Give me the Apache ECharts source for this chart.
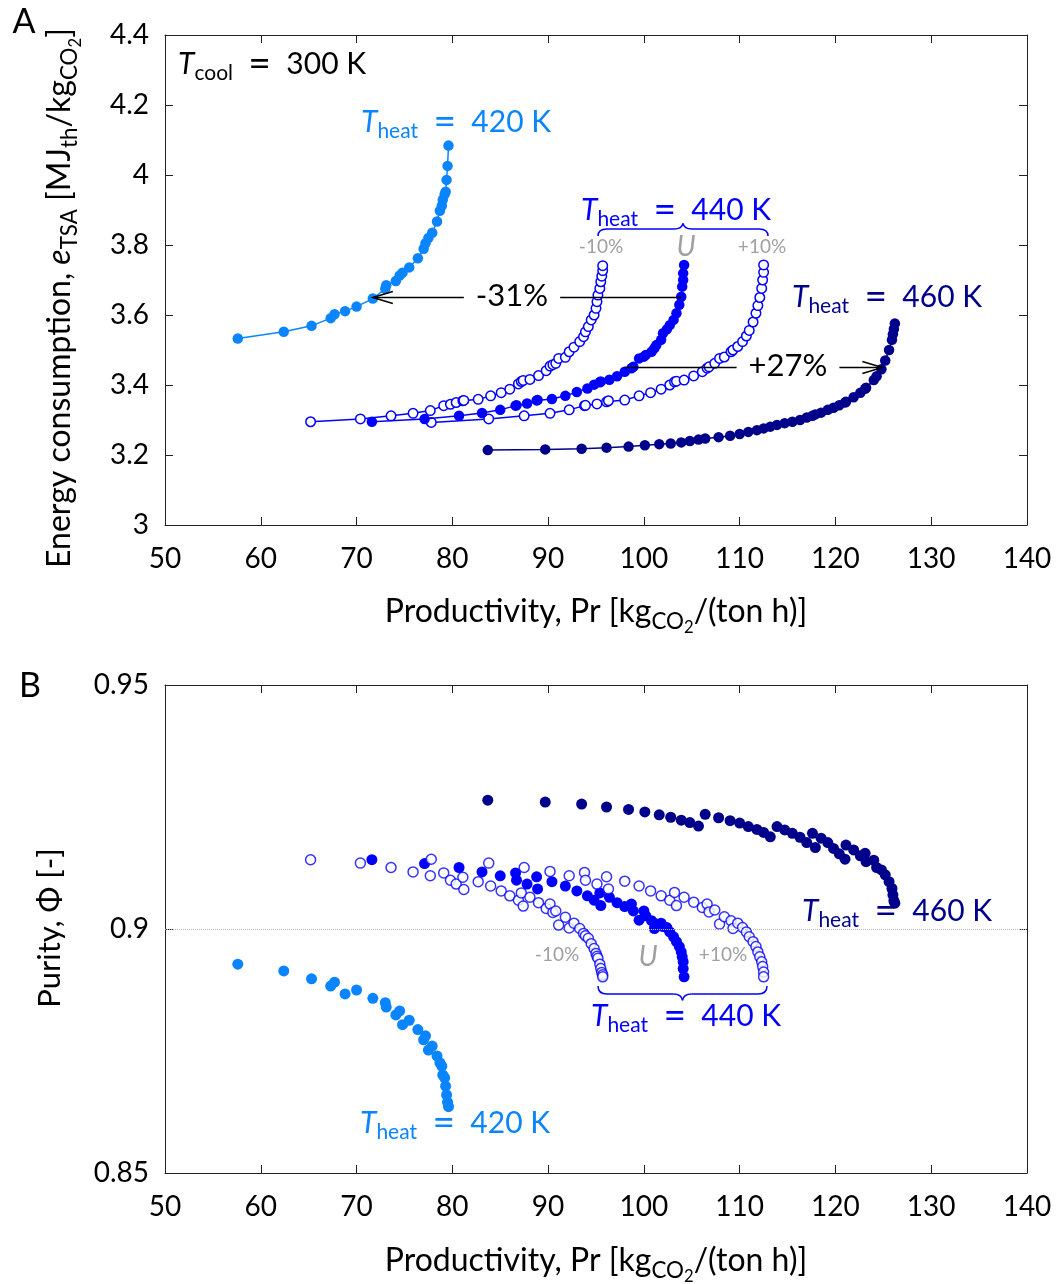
<!DOCTYPE html>
<html><head><meta charset="utf-8">
<script src="https://cdn.jsdelivr.net/npm/echarts@6/dist/echarts.min.js"></script>
<style>html,body{margin:0;padding:0;background:#fff}#c{width:1064px;height:1284px}</style>
</head><body><div id="c"></div>
<script>
// ---------------- data ----------------
const xMin = 50, xMax = 140, xStep = 10;
const yAMin = 3, yAMax = 4.4, yAStep = 0.2;
const yBMin = 0.85, yBMax = 0.95, yBStep = 0.05;

// T_heat = 420 K
const pr420 = [57.6, 62.4, 65.3, 67.3, 67.7, 68.8, 70.0, 71.7, 73.0, 73.1, 74.1, 74.5, 74.8, 75.5, 76.4, 77.0, 77.2, 77.5, 77.9, 78.4, 78.7, 78.9, 79.0, 79.2, 79.3, 79.4, 79.5, 79.6];
const e420 = [3.533, 3.552, 3.569, 3.591, 3.602, 3.611, 3.624, 3.647, 3.675, 3.685, 3.697, 3.713, 3.721, 3.736, 3.762, 3.789, 3.805, 3.82, 3.835, 3.867, 3.898, 3.912, 3.929, 3.945, 3.952, 3.986, 4.026, 4.084];
const phi420 = [0.8928, 0.8914, 0.8898, 0.8883, 0.8891, 0.8867, 0.8875, 0.8858, 0.8849, 0.884, 0.8824, 0.8832, 0.8804, 0.8813, 0.8794, 0.8773, 0.8781, 0.8752, 0.876, 0.874, 0.8726, 0.8719, 0.8701, 0.8695, 0.8678, 0.866, 0.8645, 0.8636];

// T_heat = 440 K, U (nominal)
const prU = [71.6, 77.1, 80.7, 83.1, 85.0, 86.6, 86.7, 87.8, 88.8, 88.9, 90.4, 91.8, 93.0, 94.1, 94.8, 95.4, 95.5, 96.4, 97.2, 98.0, 98.7, 98.9, 99.5, 100.0, 100.2, 100.8, 101.1, 101.3, 101.8, 102.0, 102.4, 102.7, 103.1, 103.4, 103.7, 103.9, 104.0, 104.1, 104.1, 104.2];
const eU = [3.295, 3.303, 3.312, 3.320, 3.329, 3.341, 3.342, 3.347, 3.356, 3.357, 3.360, 3.369, 3.380, 3.390, 3.401, 3.408, 3.410, 3.415, 3.425, 3.438, 3.448, 3.452, 3.476, 3.481, 3.486, 3.495, 3.505, 3.514, 3.529, 3.548, 3.559, 3.571, 3.586, 3.605, 3.629, 3.652, 3.681, 3.700, 3.719, 3.743];
const phiU = [0.9142, 0.9134, 0.9126, 0.9117, 0.9109, 0.9115, 0.9100, 0.9092, 0.9107, 0.9082, 0.9097, 0.9088, 0.9078, 0.9068, 0.9059, 0.9074, 0.9048, 0.9065, 0.9054, 0.9046, 0.9051, 0.9037, 0.9018, 0.9037, 0.9027, 0.9017, 0.9001, 0.9010, 0.9012, 0.9005, 0.9003, 0.8994, 0.8984, 0.8974, 0.8964, 0.8953, 0.8943, 0.8933, 0.8919, 0.8902];

// T_heat = 440 K, U -10%
const prM10 = [65.2, 70.4, 73.6, 75.9, 77.7, 79.1, 79.8, 80.4, 81.1, 81.2, 82.7, 84.0, 85.1, 86.0, 86.9, 87.2, 87.4, 88.1, 89.0, 89.8, 90.2, 90.5, 90.8, 91.1, 91.8, 92.2, 92.7, 93.3, 93.7, 93.9, 94.2, 94.5, 94.8, 95.0, 95.1, 95.2, 95.4, 95.5, 95.6, 95.7, 95.7];
const eM10 = [3.295, 3.303, 3.312, 3.319, 3.327, 3.341, 3.345, 3.350, 3.355, 3.356, 3.359, 3.369, 3.378, 3.388, 3.403, 3.410, 3.413, 3.416, 3.427, 3.441, 3.454, 3.458, 3.462, 3.476, 3.479, 3.495, 3.508, 3.524, 3.538, 3.552, 3.567, 3.586, 3.600, 3.619, 3.638, 3.657, 3.676, 3.695, 3.711, 3.727, 3.741];
const phiM10 = [0.9142, 0.9135, 0.9126, 0.9117, 0.9109, 0.9115, 0.9100, 0.9092, 0.9106, 0.9081, 0.9097, 0.9088, 0.9078, 0.9068, 0.9059, 0.9074, 0.9047, 0.9065, 0.9054, 0.9042, 0.9051, 0.9034, 0.9037, 0.9008, 0.9024, 0.9002, 0.9012, 0.9001, 0.8991, 0.8986, 0.8981, 0.8970, 0.8960, 0.8950, 0.8944, 0.8940, 0.8928, 0.8919, 0.8911, 0.8906, 0.8902];

// T_heat = 440 K, U +10%
const prP10 = [77.8, 83.8, 87.5, 90.2, 92.2, 93.8, 93.9, 95.1, 96.1, 96.3, 98.0, 99.5, 100.7, 101.8, 102.7, 103.2, 103.4, 104.2, 105.2, 106.1, 106.6, 106.8, 107.4, 107.9, 108.4, 109.1, 109.3, 109.8, 110.3, 110.7, 111.0, 111.4, 111.7, 111.9, 112.1, 112.3, 112.4, 112.5, 112.5];
const eP10 = [3.293, 3.303, 3.312, 3.319, 3.329, 3.341, 3.342, 3.346, 3.352, 3.355, 3.357, 3.369, 3.378, 3.388, 3.400, 3.409, 3.411, 3.414, 3.426, 3.438, 3.448, 3.452, 3.462, 3.476, 3.480, 3.495, 3.500, 3.510, 3.524, 3.540, 3.556, 3.580, 3.605, 3.627, 3.650, 3.676, 3.700, 3.722, 3.743];
const phiP10 = [0.9143, 0.9135, 0.9126, 0.9118, 0.9109, 0.9116, 0.9100, 0.9092, 0.9107, 0.9082, 0.9098, 0.9088, 0.9078, 0.9068, 0.9059, 0.9075, 0.9048, 0.9065, 0.9055, 0.9044, 0.9051, 0.9035, 0.9039, 0.9010, 0.9025, 0.9017, 0.9001, 0.9012, 0.9003, 0.8994, 0.8984, 0.8974, 0.8964, 0.8953, 0.8943, 0.8933, 0.8923, 0.8912, 0.8902];

// T_heat = 460 K
const pr460 = [83.7, 89.7, 93.5, 96.1, 98.4, 100.1, 101.6, 102.8, 103.9, 104.8, 105.7, 106.4, 107.8, 109.0, 110.0, 110.9, 111.8, 112.5, 113.2, 113.9, 114.7, 115.5, 116.3, 117.0, 117.6, 117.9, 118.5, 119.2, 119.8, 120.4, 121.0, 121.1, 121.9, 122.6, 123.1, 123.2, 124.0, 124.3, 124.8, 125.2, 125.6, 125.9, 126.0, 126.1, 126.2];
const e460 = [3.214, 3.216, 3.218, 3.221, 3.224, 3.228, 3.231, 3.233, 3.236, 3.240, 3.244, 3.247, 3.251, 3.255, 3.260, 3.266, 3.271, 3.276, 3.281, 3.286, 3.291, 3.295, 3.300, 3.307, 3.312, 3.316, 3.321, 3.329, 3.335, 3.342, 3.350, 3.352, 3.365, 3.378, 3.389, 3.392, 3.414, 3.425, 3.445, 3.470, 3.500, 3.529, 3.545, 3.560, 3.576];
const phi460 = [0.9264, 0.9260, 0.9256, 0.9250, 0.9245, 0.9240, 0.9234, 0.9229, 0.9223, 0.9218, 0.9211, 0.9235, 0.9228, 0.9222, 0.9217, 0.9210, 0.9204, 0.9198, 0.9189, 0.9210, 0.9203, 0.9196, 0.9188, 0.9177, 0.9196, 0.9167, 0.9186, 0.9177, 0.9165, 0.9154, 0.9143, 0.9172, 0.9162, 0.9150, 0.9155, 0.9138, 0.9141, 0.9126, 0.9121, 0.9111, 0.9097, 0.9083, 0.9070, 0.9058, 0.9053];

// arrows in panel A (data coordinates)
const arrowMinus = {from: [103.9, 3.65], to: [71.7, 3.65], text: '-31%'};
const arrowPlus = {from: [98.0, 3.45], to: [124.9, 3.45], text: '+27%'};
const purityRef = 0.9;

// ---------------- styling ----------------
const C420 = '#0a85ff', C440 = '#0000ff', C460 = '#00008b', GREY = '#a0a0a0';
const FF = 'Lato';
const zip = (a, b) => a.map((v, i) => [v, b[i]]);

const chart = echarts.init(document.getElementById('c'), null, {renderer: 'canvas'});

const axisLine = {show: true, lineStyle: {color: '#222', width: 1}};
const tickIn = {show: true, inside: true, length: 8, lineStyle: {color: '#222', width: 1}};
const lbl = {color: '#000', fontFamily: FF, fontSize: 28};

function xAx(grid, pos, labels) {
  return {type: 'value', gridIndex: grid, position: pos, min: xMin, max: xMax, interval: xStep,
    axisLine, axisTick: tickIn, splitLine: {show: false},
    axisLabel: labels ? Object.assign({margin: 20}, lbl) : {show: false}};
}
function yAx(grid, pos, labels, mn, mx, st) {
  return {type: 'value', gridIndex: grid, position: pos, min: mn, max: mx, interval: st,
    axisLine, axisTick: tickIn, splitLine: {show: false},
    axisLabel: labels ? Object.assign({margin: 16}, lbl) : {show: false}};
}

function lineSeries(pr, v, color, open, z) {
  return {type: 'line', xAxisIndex: 0, yAxisIndex: 0, data: zip(pr, v), symbol: 'circle',
    symbolSize: open ? 9.5 : 10.5, showAllSymbol: true, z,
    lineStyle: {color, width: 1.5},
    itemStyle: open ? {color: '#fff', borderColor: color, borderWidth: 1.5} : {color},
    emphasis: {disabled: true}, animation: false};
}
function scatSeries(pr, v, color, open, z) {
  return {type: 'scatter', xAxisIndex: 2, yAxisIndex: 2, data: zip(pr, v), symbol: 'circle',
    symbolSize: open ? 10 : 11, z,
    itemStyle: open ? {color: '#fff', borderColor: color, borderWidth: 1.5} : {color, opacity: 1},
    emphasis: {disabled: true}, animation: false};
}

const ref = scatSeries([], [], '#000', false, 1);
ref.markLine = {silent: true, symbol: 'none', label: {show: false}, animation: false,
  lineStyle: {type: 'dotted', color: '#bbb', width: 1}, data: [{yAxis: purityRef}]};

chart.setOption({
  animation: false,
  backgroundColor: '#fff',
  grid: [
    {left: 165, top: 35, width: 862, height: 490},
    {left: 165, top: 685, width: 862, height: 488}
  ],
  xAxis: [xAx(0, 'bottom', true), xAx(0, 'top', false), xAx(1, 'bottom', true), xAx(1, 'top', false)],
  yAxis: [yAx(0, 'left', true, yAMin, yAMax, yAStep), yAx(0, 'right', false, yAMin, yAMax, yAStep),
          yAx(1, 'left', true, yBMin, yBMax, yBStep), yAx(1, 'right', false, yBMin, yBMax, yBStep)],
  series: [
    lineSeries(pr460, e460, C460, false, 2),
    lineSeries(prP10, eP10, C440, true, 3),
    lineSeries(prU, eU, C440, false, 4),
    lineSeries(prM10, eM10, C440, true, 5),
    lineSeries(pr420, e420, C420, false, 6),
    ref,
    scatSeries(pr460, phi460, C460, false, 2),
    scatSeries(prU, phiU, C440, false, 3),
    scatSeries(prP10, phiP10, C440, true, 4),
    scatSeries(prM10, phiM10, C440, true, 5),
    scatSeries(pr420, phi420, C420, false, 6)
  ]
});

// ---------------- annotations ----------------
const cv = document.createElement('canvas').getContext('2d');
function measure(t, sz, it) { cv.font = (it ? 'italic ' : '') + sz + 'px ' + FF; return cv.measureText(t).width; }

// pieces: {t, it, sub (0,1,2), k (size factor)}
function label(pieces, x, y, S, color, align, rotation) {
  let w = 0; const items = [];
  pieces.forEach(p => {
    const lv = p.sub || 0;
    const sz = (lv === 0 ? S : (lv === 1 ? S * 0.7 : S * 0.52)) * (p.k || 1);
    const dy = lv === 0 ? 0 : (lv === 1 ? S * 0.3 : S * 0.48);
    items.push({p, sz, dy, x0: w});
    w += measure(p.t, sz, p.it);
  });
  const off = align === 'center' ? -w / 2 : (align === 'right' ? -w : 0);
  return {type: 'group', x, y, rotation: rotation || 0, z: 100, silent: true,
    children: items.map(it => ({type: 'text', x: off + it.x0, y: it.dy, z: 100,
      style: {text: it.p.t, font: (it.p.it ? 'italic ' : '') + it.sz.toFixed(1) + 'px ' + FF,
        fill: color, textAlign: 'left', textVerticalAlign: 'middle'}}))};
}
const eq = [{t: '  '}, {t: '=', k: 1.3}, {t: '  '}];
const heat = k => [{t: 'T', it: 1}, {t: 'heat', sub: 1}].concat(eq, [{t: k + ' K'}]);

// curly brace: x0..x1 at level y, ends bent by h (positive -> ends below, tip above)
function brace(x0, x1, y, h, color) {
  const xm = (x0 + x1) / 2, r = 9;
  const st = {stroke: color, lineWidth: 1.5, fill: 'none'};
  const bez = (a, b, c, d, e, f) => ({type: 'bezierCurve', z: 90, silent: true,
    shape: {x1: a, y1: b, cpx1: c, cpy1: d, x2: e, y2: f}, style: st});
  const ln = (a, b, c, d) => ({type: 'line', z: 90, silent: true, shape: {x1: a, y1: b, x2: c, y2: d}, style: st});
  return [
    bez(x0, y + h, x0, y, x0 + r, y),
    ln(x0 + r, y, xm - r, y),
    bez(xm - r, y, xm - 1, y, xm, y - h * 0.8),
    bez(xm, y - h * 0.8, xm + 1, y, xm + r, y),
    ln(xm + r, y, x1 - r, y),
    bez(x1 - r, y, x1, y, x1, y + h)
  ];
}

const g = [];
// panel letters
g.push(label([{t: 'A'}], 24, 22, 34, '#000', 'center'));
g.push(label([{t: 'B'}], 30, 686, 34, '#000', 'center'));
// axis titles
const yTitleA = [{t: 'Energy consumption, '}, {t: 'e', it: 1}, {t: 'TSA', sub: 1}, {t: ' [MJ'}, {t: 'th', sub: 1}, {t: '/kg'}, {t: 'CO', sub: 1}, {t: '2', sub: 2}, {t: ']'}];
const xTitle = [{t: 'Productivity, Pr [kg'}, {t: 'CO', sub: 1}, {t: '2', sub: 2}, {t: '/(ton h)]'}];
g.push(label(yTitleA, 60, 298, 32, '#000', 'center', Math.PI / 2));
g.push(label(xTitle, 596, 612, 32, '#000', 'center'));
g.push(label(xTitle, 596, 1261, 32, '#000', 'center'));
g.push(label([{t: 'Purity, Φ [-]'}], 50, 928, 31, '#000', 'center', Math.PI / 2));

// panel A labels
g.push(label([{t: 'T', it: 1}, {t: 'cool', sub: 1}].concat(eq, [{t: '300 K'}]), 178, 64, 30, '#000', 'left'));
g.push(label(heat(420), 361, 122, 30, C420, 'left'));
g.push(label(heat(440), 581, 210, 30, C440, 'left'));
g.push(label(heat(460), 792, 297, 30, C460, 'left'));
g.push(label([{t: '-10%'}], 601, 247, 19, GREY, 'center'));
g.push(label([{t: 'U', it: 1}], 686, 247, 28, GREY, 'center'));
g.push(label([{t: '+10%'}], 762, 247, 19, GREY, 'center'));
brace(598, 768, 229, 7, C440).forEach(e => g.push(e));

// panel B labels
g.push(label(heat(460), 802, 911, 30, C460, 'left'));
g.push(label(heat(440), 591, 1016, 30, C440, 'left'));
g.push(label(heat(420), 360, 1123, 30, C420, 'left'));
g.push(label([{t: '-10%'}], 557, 955, 19, GREY, 'center'));
g.push(label([{t: 'U', it: 1}], 648, 957, 28, GREY, 'center'));
g.push(label([{t: '+10%'}], 723, 955, 19, GREY, 'center'));
brace(598, 767, 994, -8, C440).forEach(e => g.push(e));

// arrows
function arrow(a, textCx) {
  const p0 = chart.convertToPixel({xAxisIndex: 0, yAxisIndex: 0}, a.from);
  const p1 = chart.convertToPixel({xAxisIndex: 0, yAxisIndex: 0}, a.to);
  const y = p0[1];
  const tw = measure(a.text, 31, false);
  const gapL = textCx - tw / 2 - 12, gapR = textCx + tw / 2 + 12;
  const dir = Math.sign(p1[0] - p0[0]);
  const ls = {stroke: '#000', lineWidth: 1.5, fill: 'none'};
  const segs = dir < 0
    ? [[p0[0], gapR], [gapL, p1[0]]]
    : [[p0[0], gapL], [gapR, p1[0]]];
  segs.forEach(s => g.push({type: 'line', z: 95, silent: true, shape: {x1: s[0], y1: y, x2: s[1], y2: y}, style: ls}));
  const hx = p1[0], back = -dir * 20;
  g.push({type: 'polyline', z: 95, silent: true, shape: {points: [[hx + back, y - 6], [hx, y], [hx + back, y + 6]]}, style: ls});
  g.push(label([{t: a.text}], textCx, y - 2, 31, '#000', 'center'));
}
arrow(arrowMinus, 512);
arrow(arrowPlus, 788);

chart.setOption({graphic: {elements: g}});
</script>
</body></html>
